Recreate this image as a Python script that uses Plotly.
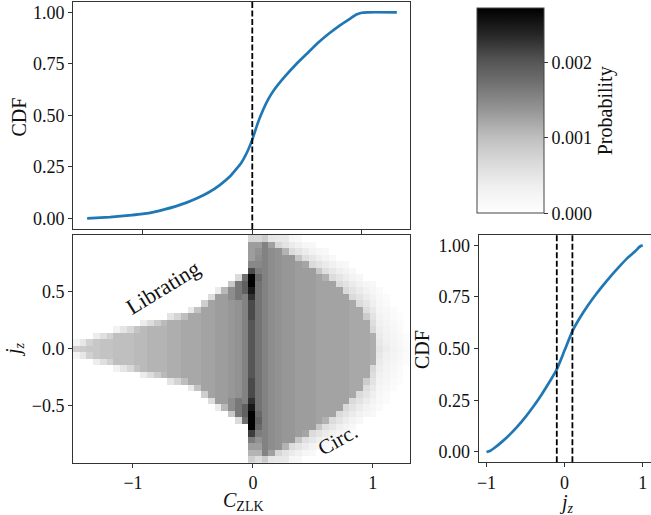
import numpy as np
import plotly.graph_objects as go

# ---------------- data ----------------
# CDF of C_ZLK (top-left panel)
czlk_cdf_x = [-1.507, -1.3, -1.1, -1.0, -0.9, -0.8, -0.7, -0.6, -0.5, -0.4, -0.3, -0.2,
              -0.1, -0.05, 0.0, 0.05, 0.1, 0.15, 0.2, 0.3, 0.4, 0.5, 0.6, 0.7, 0.8,
              0.9, 0.95, 1.0, 1.05, 1.319]
czlk_cdf_y = [0.0, 0.006, 0.015, 0.021, 0.030, 0.043, 0.058, 0.076, 0.098, 0.125, 0.160,
              0.205, 0.270, 0.318, 0.382, 0.462, 0.528, 0.582, 0.624, 0.690, 0.748,
              0.800, 0.852, 0.897, 0.937, 0.972, 0.989, 0.998, 1.0, 1.0]
czlk_marks = [0.0]

# CDF of j_z (bottom-right panel)
jz_cdf_x = [-1.0, -0.95, -0.9, -0.8, -0.7, -0.6, -0.5, -0.4, -0.3, -0.2, -0.1, 0.0,
            0.1, 0.2, 0.3, 0.4, 0.5, 0.6, 0.7, 0.8, 0.9, 0.95, 0.975, 1.0]
jz_cdf_y = [0.0, 0.006, 0.019, 0.050, 0.085, 0.125, 0.170, 0.220, 0.275, 0.335, 0.400,
            0.492, 0.585, 0.652, 0.710, 0.762, 0.810, 0.855, 0.897, 0.937, 0.970, 0.989,
            0.997, 1.0]
jz_marks = [-0.1, 0.1]

# 2D histogram (bottom-left): 50 C bins x 35 j_z bins
cz_range = [-1.5, 1.31]
jz_range = [-1.0, 1.0]
n_cz, n_jz = 50, 35
# half-height (in j_z) of the filled region of every C column
core_jmax = [0.030, 0.050, 0.075, 0.096, 0.112, 0.128, 0.143, 0.159, 0.175, 0.191,
             0.206, 0.222, 0.238, 0.253, 0.269, 0.285, 0.301, 0.320, 0.355, 0.400,
             0.445, 0.487, 0.528, 0.568, 0.608, 0.650, 1.000, 0.990, 0.963, 0.933,
             0.902, 0.871, 0.838, 0.804, 0.767, 0.730, 0.691, 0.649, 0.604, 0.555,
             0.502, 0.443, 0.374, 0.290, 0.164, 0.0, 0.0, 0.0, 0.0, 0.0]
# typical probability of a column (units of 1e-4)
core_level = [8, 8.5, 9, 9, 9.5, 9.5, 10, 10, 10, 10.5,
              10.5, 11, 11, 11, 11.5, 11.5, 12, 12, 12, 12.5,
              12.5, 13, 13, 13.5, 14, 15.5, 0, 17, 15.5, 14.5,
              14, 13.5, 13.5, 13, 13, 13, 12.5, 12.5, 12.5, 12.5,
              12.5, 12, 12, 12, 11.5, 0, 0, 0, 0, 0]
# darker band along the separatrix edge just left of C = 0 (units of 1e-4)
edge_cols = [23, 24, 25]
edge_level = [14.5, 16.5, 19]
# profiles of the two columns at C ~ 0 (bottom row -> top row, units of 1e-4)
col26_profile = [8, 11, 13, 16, 22, 27, 27, 27, 25, 23, 21, 21, 21, 20, 20, 20, 20, 20,
                 20, 20, 20, 20, 21, 21, 21, 23, 25, 27, 27, 21, 15, 13, 13, 13, 7]
col27_profile = [7, 11, 13, 14, 16, 18, 19, 18, 17, 17, 17, 17, 17, 17, 17, 17, 17, 17,
                 17, 17, 17, 17, 17, 17, 17, 17, 17, 17, 18, 16, 15, 14.5, 14, 13, 8]
# faint halo beyond the circulating boundary
halo_jmax = [0] * 27 + [1.0, 1.0, 1.0, 1.0, 1.0, 0.987, 0.958, 0.928, 0.897, 0.865,
                        0.832, 0.798, 0.762, 0.724, 0.684, 0.642, 0.597, 0.547, 0.493,
                        0.432, 0.362, 0.274, 0.134]
halo_in = [0] * 27 + [6, 6, 6, 6, 6] + [7] * 13 + [5, 3.8, 2.8, 2.0, 1.2]
halo_out = [0] * 27 + [4, 4, 4, 4, 4] + [1.5] * 13 + [1.2, 1.0, 0.8, 0.7, 0.5]
prob_max = 0.00272
cbar_ticks = [0.0, 0.001, 0.002]

# ---------------- build the histogram grid ----------------
cz_edges = np.linspace(cz_range[0], cz_range[1], n_cz + 1)
jz_edges = np.linspace(jz_range[0], jz_range[1], n_jz + 1)
cz_c = 0.5 * (cz_edges[:-1] + cz_edges[1:])
jz_c = 0.5 * (jz_edges[:-1] + jz_edges[1:])
dj = jz_edges[1] - jz_edges[0]
Z = np.full((n_jz, n_cz), np.nan)
for k in range(n_cz):
    for r in range(n_jz):
        a = abs(jz_c[r])
        lo = a - dj / 2
        v_core = 0.0
        if core_jmax[k] > lo:
            f = min(1.0, (core_jmax[k] - lo) / dj)
            if k == 26:
                lvl = col26_profile[r]
            elif k == 27:
                lvl = col27_profile[r]
            else:
                lvl = core_level[k]
                if k in edge_cols and a > core_jmax[k] - 0.16:
                    lvl = edge_level[edge_cols.index(k)]
            v_core = lvl * (0.3 + 0.7 * f)
        v_halo = 0.0
        if halo_jmax[k] > 0 and core_jmax[k] < a <= halo_jmax[k] + dj / 2:
            span = max(halo_jmax[k] - core_jmax[k], 1e-6)
            t = min(1.0, (a - core_jmax[k]) / span)
            v_halo = halo_in[k] + (halo_out[k] - halo_in[k]) * t
        v = max(v_core, v_halo)
        if v > 0:
            Z[r, k] = v * 1e-4

# ---------------- figure ----------------
W, H = 651, 515
def px(x):
    return x / W
def py(y):
    return 1 - y / H

FONT = "Liberation Serif"
TICKF = dict(family=FONT, size=18, color="#111")
LBLF = dict(family=FONT, size=20, color="#111")
greys = [[0, '#ffffff'], [0.125, '#f0f0f0'], [0.25, '#d9d9d9'], [0.375, '#bdbdbd'],
         [0.5, '#969696'], [0.625, '#737373'], [0.75, '#525252'], [0.875, '#252525'],
         [1, '#000000']]

fig = go.Figure()
fig.add_trace(go.Scatter(x=czlk_cdf_x, y=czlk_cdf_y, mode='lines',
                         line=dict(color='#1f77b4', width=2.7, shape='spline', smoothing=0.4),
                         xaxis='x', yaxis='y', showlegend=False, hoverinfo='skip'))
fig.add_trace(go.Heatmap(x=cz_c, y=jz_c, z=Z, colorscale=greys, zmin=0, zmax=prob_max,
                         xaxis='x2', yaxis='y2', hoverinfo='skip',
                         colorbar=dict(x=px(476.7), xanchor='left', y=py(8.3), yanchor='top',
                                       len=205, lenmode='pixels', thickness=66.6,
                                       thicknessmode='pixels', xpad=0, ypad=0,
                                       outlinecolor='#444', outlinewidth=1,
                                       tickvals=cbar_ticks, tickformat='.3f',
                                       ticks='outside', ticklen=4, tickcolor='#333',
                                       tickfont=TICKF,
                                       title=dict(text='Probability', side='right', font=LBLF))))
fig.add_trace(go.Scatter(x=jz_cdf_x, y=jz_cdf_y, mode='lines',
                         line=dict(color='#1f77b4', width=2.7, shape='spline', smoothing=0.5),
                         xaxis='x3', yaxis='y3', showlegend=False, hoverinfo='skip'))

shapes = []
for m in czlk_marks:
    shapes.append(dict(type='line', xref='x', yref='y domain', x0=m, x1=m, y0=0, y1=1,
                       line=dict(color='black', width=1.8, dash='6px,2.5px')))
for m in jz_marks:
    shapes.append(dict(type='line', xref='x3', yref='y3 domain', x0=m, x1=m, y0=0, y1=1,
                       line=dict(color='black', width=1.8, dash='6px,2.5px')))

ax_common = dict(showline=True, mirror=True, linecolor='#333', linewidth=1,
                 ticks='outside', ticklen=4, tickwidth=1, tickcolor='#333',
                 showgrid=False, zeroline=False, tickfont=TICKF, automargin=False)

left_dom = [px(73), px(410)]
fig.update_layout(
    width=W, height=H, autosize=False,
    margin=dict(l=0, r=0, t=0, b=0),
    paper_bgcolor='white', plot_bgcolor='white',
    template='none',
    font=dict(family=FONT, size=18, color='#111'),
    xaxis=dict(domain=left_dom, range=[-1.636, 1.439], tickvals=[-1, 0, 1],
               showticklabels=False, anchor='y', **ax_common),
    yaxis=dict(domain=[py(229), py(2)], range=[-0.052, 1.05],
               tickvals=[0, 0.25, 0.5, 0.75, 1.0], tickformat='.2f', anchor='x', **ax_common),
    xaxis2=dict(domain=left_dom, range=cz_range, tickvals=[-1, 0, 1], anchor='y2', **ax_common),
    yaxis2=dict(domain=[py(462.7), py(235)], range=jz_range, tickvals=[-0.5, 0, 0.5],
                tickformat='.1f', anchor='x2', **ax_common),
    xaxis3=dict(domain=[px(478.7), px(650.5)], range=[-1.1, 1.1], tickvals=[-1, 0, 1],
                anchor='y3', **ax_common),
    yaxis3=dict(domain=[py(462.3), py(235)], range=[-0.05, 1.05],
                tickvals=[0, 0.25, 0.5, 0.75, 1.0], tickformat='.2f', anchor='x3', **ax_common),
    shapes=shapes,
    annotations=[
        dict(text='CDF', x=px(18.5), y=py(117), xref='paper', yref='paper', textangle=-90,
             showarrow=False, font=LBLF, xanchor='center', yanchor='middle'),
        dict(text='<i>j</i><sub><i>z</i></sub>', x=px(14), y=py(350), xref='paper', yref='paper',
             textangle=-90, showarrow=False, font=LBLF, xanchor='center', yanchor='middle'),
        dict(text='<i>C</i><sub>ZLK</sub>', x=px(243), y=py(501), xref='paper', yref='paper',
             showarrow=False, font=LBLF, xanchor='center', yanchor='middle'),
        dict(text='<i>j</i><sub><i>z</i></sub>', x=px(566), y=py(503), xref='paper', yref='paper',
             showarrow=False, font=LBLF, xanchor='center', yanchor='middle'),
        dict(text='CDF', x=px(422), y=py(350), xref='paper', yref='paper', textangle=-90,
             showarrow=False, font=LBLF, xanchor='center', yanchor='middle'),
        dict(text='Librating', x=-0.75, y=0.54, xref='x2', yref='y2', textangle=-31.5,
             showarrow=False, font=dict(family=FONT, size=22, color='#111')),
        dict(text='Circ.', x=0.706, y=-0.80, xref='x2', yref='y2', textangle=-29,
             showarrow=False, font=dict(family=FONT, size=21, color='#111')),
    ],
)

fig.write_html("out.html")
